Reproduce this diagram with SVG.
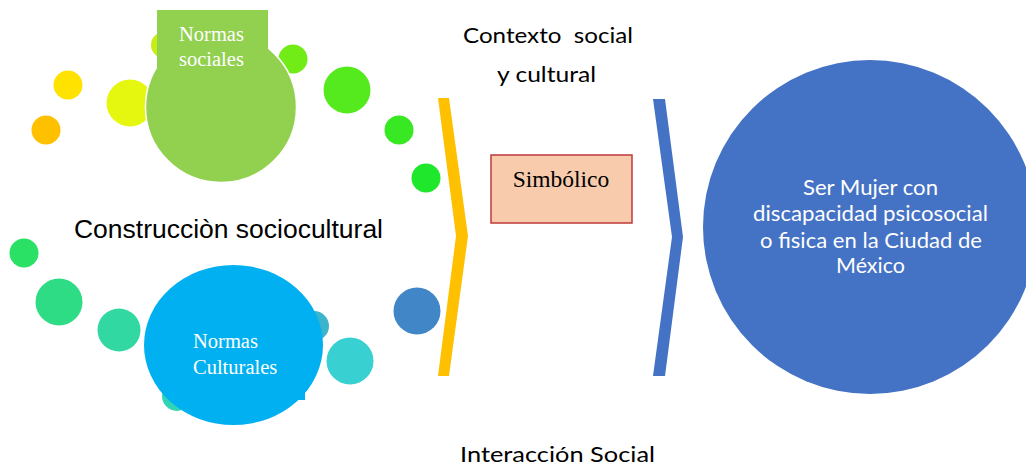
<svg xmlns="http://www.w3.org/2000/svg" width="1026" height="468" viewBox="0 0 1026 468">
<style>
.serif{font-family:"Liberation Serif","Times New Roman",serif;}
.sans{font-family:"Liberation Sans",Arial,sans-serif;}
.cal{font-family:Lato,"Open Sans",sans-serif;white-space:pre;}
.wt{fill:#ffffff;}
.bk{fill:#000000;}
</style>
<rect width="1026" height="468" fill="#ffffff"/>
<g id="decor-circles">
<circle cx="46" cy="130" r="14.5" fill="#FFC000"/>
<circle cx="68" cy="85" r="14.5" fill="#FFE200"/>
<circle cx="130" cy="103" r="23.5" fill="#E6F70F"/>
<circle cx="164" cy="45" r="13" fill="#C6EE12"/>
<circle cx="293" cy="59" r="14.5" fill="#72EC16"/>
<circle cx="347" cy="90" r="23.5" fill="#55EA1E"/>
<circle cx="399" cy="130" r="14.5" fill="#38E822"/>
<circle cx="426" cy="178" r="14.5" fill="#1FE72C"/>
<circle cx="24" cy="253" r="14.5" fill="#2AE065"/>
<circle cx="59" cy="302" r="23.5" fill="#2EDC85"/>
<circle cx="119" cy="330" r="21.5" fill="#32D8A2"/>
<circle cx="177" cy="396" r="15" fill="#31D4B5"/>
<circle cx="314" cy="326" r="15" fill="#3CB4CC"/>
<circle cx="350" cy="361" r="23.5" fill="#38D0D0"/>
<circle cx="417" cy="311" r="23.5" fill="#4187C7"/>
</g>
<g id="normas-sociales">
<circle cx="221" cy="107" r="75.5" fill="#92D050" stroke="#ffffff" stroke-width="1.5"/>
<rect x="157" y="10" width="111" height="61" fill="#92D050"/>
<text class="serif wt" x="179" y="41" font-size="20.5">Normas</text>
<text class="serif wt" x="179" y="66" font-size="20.5">sociales</text>
</g>
<g id="normas-culturales">
<rect x="176" y="300" width="129" height="100" fill="#00B0F0"/>
<ellipse cx="233.5" cy="345" rx="89.5" ry="80" fill="#00B0F0"/>
<text class="serif wt" x="193" y="348" font-size="20.5">Normas</text>
<text class="serif wt" x="193" y="374" font-size="20.5">Culturales</text>
</g>
<g id="construccion">
<text class="sans bk" x="74" y="238" font-size="26" textLength="309" lengthAdjust="spacingAndGlyphs">Construcciòn sociocultural</text>
</g>
<g id="contexto">
<text class="cal bk" x="463" y="43" font-size="22" textLength="170" lengthAdjust="spacingAndGlyphs">Contexto  social</text>
<text class="cal bk" x="497" y="82" font-size="22" textLength="99" lengthAdjust="spacingAndGlyphs">y cultural</text>
</g>
<g id="interaccion">
<text class="cal bk" x="460" y="462" font-size="22" textLength="195" lengthAdjust="spacingAndGlyphs">Interacción Social</text>
</g>
<g id="simbolico">
<rect x="491" y="155" width="141" height="68" fill="#F8CBAD" stroke="#C0393B" stroke-width="1.5"/>
<text class="serif bk" x="561" y="187" font-size="23.5" text-anchor="middle">Simbólico</text>
</g>
<g id="connectors">
<polygon points="438,98 449,98 468,236 449,376 438,376 456,236" fill="#FFC000"/>
<polygon points="653,99 665,99 683,237 665,376 653,376 672,237" fill="#4472C4"/>
</g>
<g id="ser-mujer">
<circle cx="870" cy="227" r="167" fill="#4472C4"/>
<text class="cal wt" x="870.5" y="195" font-size="22" text-anchor="middle" textLength="135" lengthAdjust="spacingAndGlyphs">Ser Mujer con</text>
<text class="cal wt" x="870.5" y="221" font-size="22" text-anchor="middle" textLength="235" lengthAdjust="spacingAndGlyphs">discapacidad psicosocial</text>
<text class="cal wt" x="871" y="248" font-size="22" text-anchor="middle" textLength="222" lengthAdjust="spacingAndGlyphs">o fisica en la Ciudad de</text>
<text class="cal wt" x="870.5" y="273" font-size="22" text-anchor="middle" textLength="69" lengthAdjust="spacingAndGlyphs">México</text>
</g>
</svg>
